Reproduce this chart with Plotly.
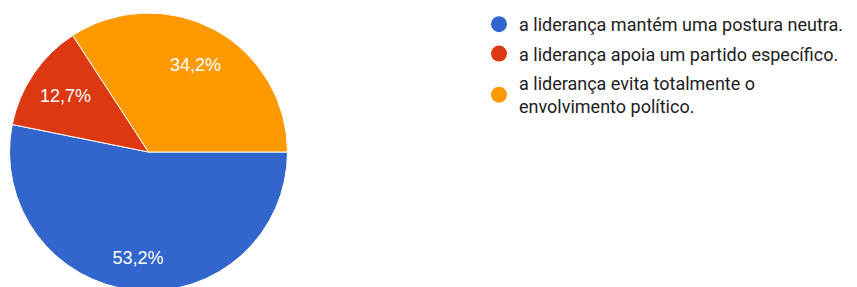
import plotly.graph_objects as go

categories = [
    "a liderança mantém uma postura neutra.",
    "a liderança apoia um partido específico.",
    "a liderança evita totalmente o<br>envolvimento político.",
]
counts = [42, 10, 27]
colors = ["#3366cc", "#dc3912", "#ff9900"]

W, H = 857, 292
cx, cy, r = 148.5, 152, 139
dom = dict(x=[(cx - r) / W, (cx + r) / W], y=[(H - cy - r) / H, (H - cy + r) / H])
label_holes = [0.53, 0.34, 0.42]  # per-slice ring used to place each percentage label

fig = go.Figure()
fig.add_trace(go.Pie(
    labels=categories, values=counts,
    marker=dict(colors=colors, line=dict(color="white", width=1)),
    sort=False, direction="clockwise", rotation=90,
    textinfo="none", showlegend=False, hoverinfo="skip", domain=dom,
))
# text-only rings to place percentage labels further from the centre
for i, hole in enumerate(label_holes):
    tt = ["" for _ in categories]
    tt[i] = "%{percent:.1%}"
    fig.add_trace(go.Pie(
        labels=categories, values=counts, hole=hole,
        marker=dict(colors=["rgba(0,0,0,0)"] * len(categories), line=dict(width=0)),
        sort=False, direction="clockwise", rotation=90,
        texttemplate=tt, textposition="inside",
        insidetextorientation="horizontal",
        textfont=dict(family="Liberation Sans, Arial", size=18, color="white"),
        showlegend=False, hoverinfo="skip", domain=dom,
    ))
for name, col in zip(categories, colors):
    fig.add_trace(go.Scatter(
        x=[None], y=[None], mode="markers", name=name,
        marker=dict(color=col, size=19, symbol="circle"),
        legendgroup=name,
    ))

fig.update_layout(
    width=W, height=H,
    margin=dict(l=0, r=0, t=0, b=0),
    paper_bgcolor="white", plot_bgcolor="white",
    separators=",.",
    xaxis=dict(visible=False), yaxis=dict(visible=False),
    legend=dict(
        x=479 / W, y=1 - 6 / H, xanchor="left", yanchor="top",
        font=dict(family="Roboto, Arial", size=18, color="#212121"),
        tracegroupgap=3, itemwidth=30,
        bgcolor="rgba(0,0,0,0)",
    ),
)
fig.write_html("out.html", config={"displayModeBar": False},
               post_script="document.body.style.margin='0';document.body.style.overflow='hidden';")
